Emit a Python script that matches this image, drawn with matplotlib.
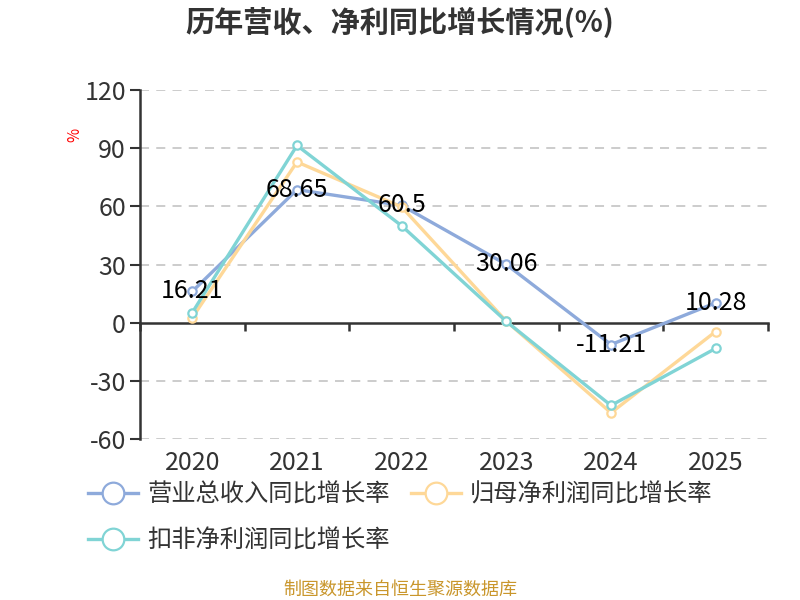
import matplotlib
matplotlib.use("Agg")
import matplotlib.pyplot as plt
import numpy as np

plt.rcParams['font.family'] = ['Noto Sans CJK SC', 'DejaVu Sans']

years = ['2020', '2021', '2022', '2023', '2024', '2025']
revenue = [16.21, 68.65, 60.5, 30.06, -11.21, 10.28]
net_profit = [2.7, 82.9, 59.7, 0.8, -46.4, -4.5]
deducted_profit = [5.3, 91.4, 50.0, 0.7, -42.6, -13.2]
series_names = ['营业总收入同比增长率', '归母净利润同比增长率', '扣非净利润同比增长率']
y_ticks = [-60, -30, 0, 30, 60, 90, 120]

colors = ['#8eaadb', '#fed898', '#80d4d5']
text_color = '#333333'

fig = plt.figure(figsize=(8, 6), dpi=100)
ax = fig.add_axes([0.175, 0.268, 0.785, 0.582])

x = np.arange(len(years))
handles = []
for vals, name, c in zip([revenue, net_profit, deducted_profit], series_names, colors):
    h, = ax.plot(x, vals, color=c, lw=2.4, marker='o', markersize=6,
                 markerfacecolor='white', markeredgecolor=c, markeredgewidth=1.6,
                 label=name, zorder=3)
    handles.append(h)

# labels only on the revenue line
for xi, v in zip(x, revenue):
    ax.text(xi, v, f'{v:g}', ha='center', va='center', fontsize=18,
            color='black', zorder=4)

ax.set_xlim(-0.5, len(years) - 0.5)
ax.set_ylim(y_ticks[0], y_ticks[-1])
ax.set_yticks(y_ticks)
ax.set_yticklabels([str(t) for t in y_ticks])
ax.tick_params(axis='y', length=7, width=1.5, color=text_color,
               labelsize=18, labelcolor=text_color, pad=3)

for t in y_ticks:
    if t != 0:
        ax.axhline(t, color='#c8c8c8', lw=1.3, ls=(0, (5, 4)), zorder=1)

for s in ['top', 'right']:
    ax.spines[s].set_visible(False)
ax.spines['left'].set_color(text_color)
ax.spines['left'].set_linewidth(1.8)
ax.spines['bottom'].set_position(('data', 0))
ax.spines['bottom'].set_color(text_color)
ax.spines['bottom'].set_linewidth(1.8)

ax.set_xticks(np.arange(-0.5, len(years)), minor=True)
ax.set_xticks([])
ax.tick_params(axis='x', which='minor', length=6, width=1.8, color=text_color,
               direction='out')

sec = ax.secondary_xaxis('bottom')
sec.set_xticks(x)
sec.set_xticklabels(years)
sec.tick_params(length=0, labelsize=18, labelcolor=text_color, pad=8)
sec.spines['bottom'].set_visible(False)

ax.set_ylabel('%', color='red', fontsize=11, rotation=90)
ax.yaxis.set_label_coords(-0.09, 0.87)

fig.text(0.5, 0.962, '历年营收、净利同比增长情况(%)', ha='center', va='center',
         fontsize=21, fontweight='bold', color=text_color)

# row-major order: first two on row one, third on row two
order = [0, 2, 1]
fig.legend([handles[i] for i in order], [series_names[i] for i in order],
           loc='upper left', bbox_to_anchor=(0.11, 0.197), ncol=2, frameon=False,
           fontsize=17.5, labelcolor=text_color, handlelength=2.05,
           columnspacing=0.85, handletextpad=0.4, labelspacing=0.8,
           borderaxespad=0, borderpad=0, markerscale=2.6)

fig.text(0.5, 0.018, '制图数据来自恒生聚源数据库', ha='center', va='center',
         fontsize=13, color='#c9962b')

fig.savefig('out.png', dpi=100)
